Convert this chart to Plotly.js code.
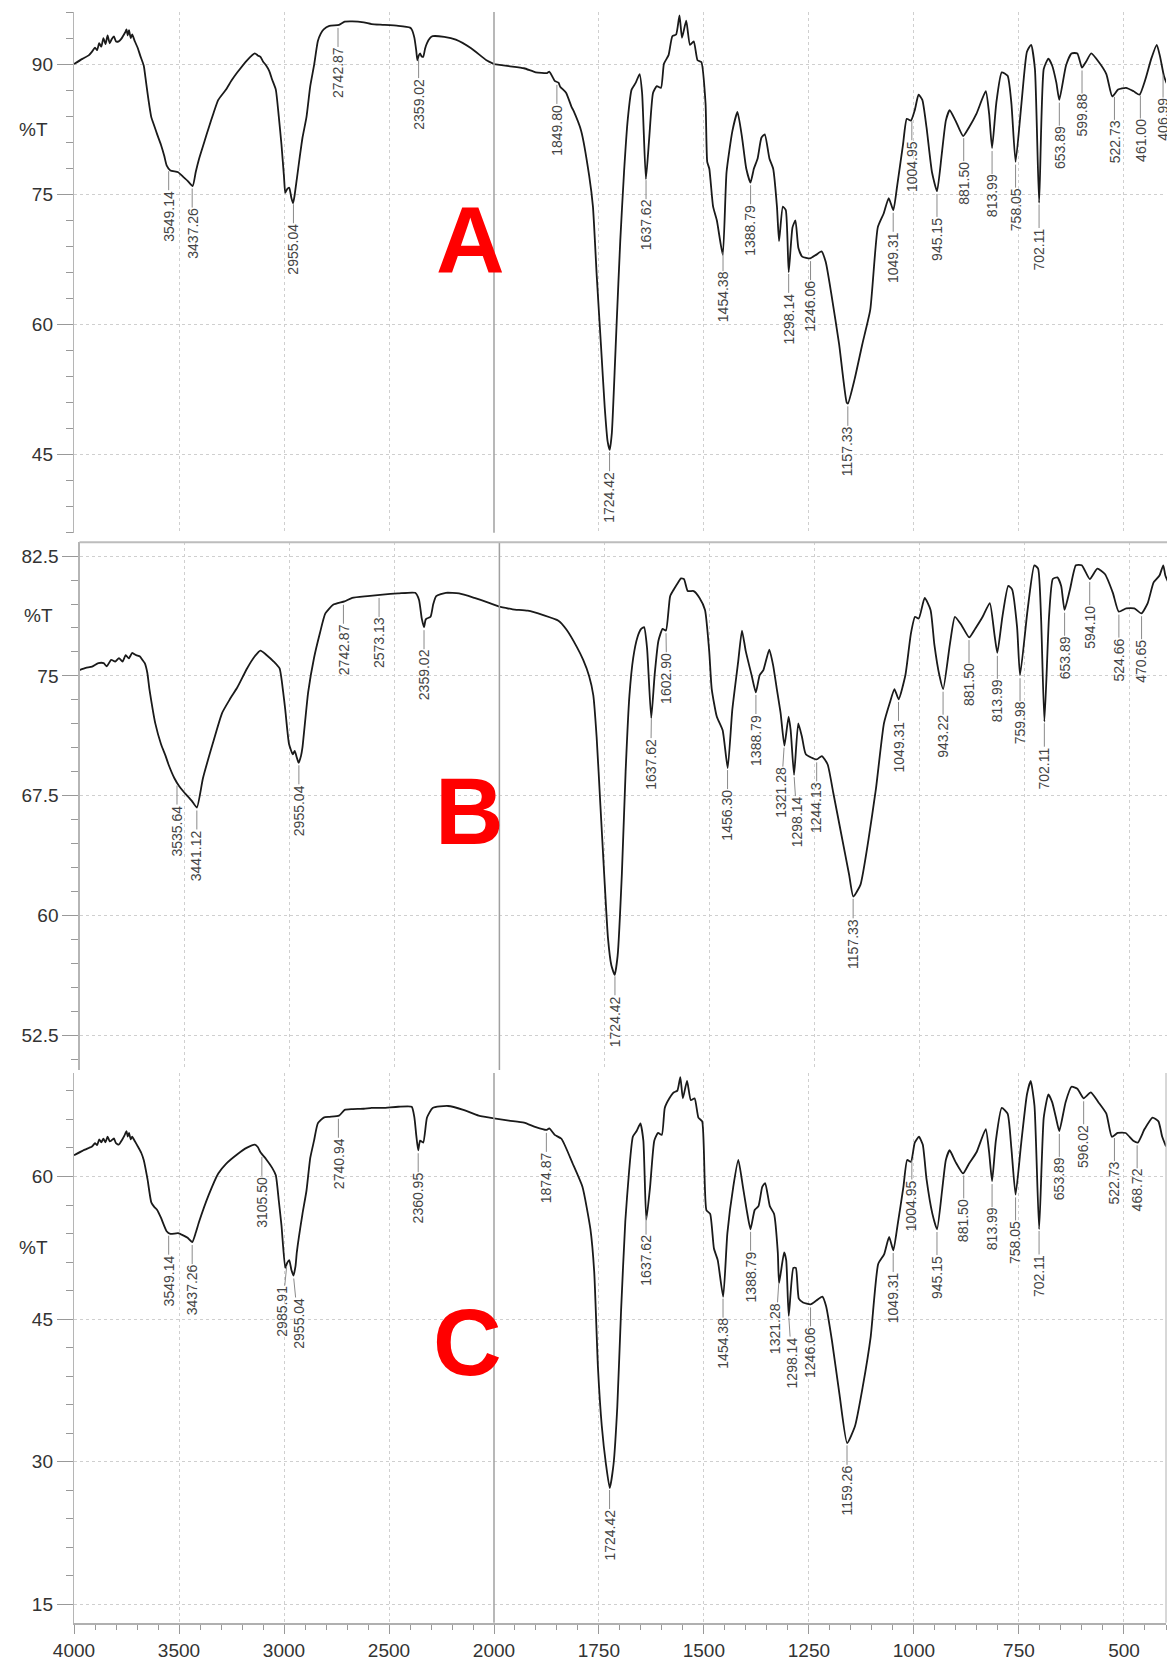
<!DOCTYPE html>
<html><head><meta charset="utf-8">
<script src="https://cdn.plot.ly/plotly-3.0.1.min.js"></script>
<style>html,body{margin:0;padding:0;background:#fff}#chart{width:1167px;height:1663px}</style>
</head><body><div id="chart"></div>
<script>
// ---------- DATA ----------
const A_wn = [4000,3960,3930,3914,3900,3890,3880,3870,3860,3850,3840,3830,3820,3810,3800,3787,3775,3765,3755,3750,3744,3738,3730,3723,3710,3696,3685,3668,3660,3650,3640,3632,3618,3604,3586,3570,3559,3541,3504,3480,3459,3435,3420,3404,3380,3358,3335,3313,3276,3250,3222,3176,3139,3125,3112,3100,3085,3070,3057,3039,3025,3012,3000,2994,2985,2975,2965,2957,2950,2939,2925,2912,2893,2875,2857,2839,2825,2811,2784,2738,2711,2675,2620,2583,2529,2456,2400,2392,2379,2370,2365,2358,2352,2345,2337,2328,2319,2305,2292,2237,2182,2109,2036,2000,1964,1928,1900,1873,1868,1860,1855,1846,1842,1828,1815,1810,1792,1773,1764,1755,1745,1736,1729,1724,1719,1712,1708,1699,1690,1681,1672,1662,1653,1647,1638,1630,1621,1612,1602,1595,1584,1575,1566,1558,1552,1542,1533,1524,1515,1506,1496,1492,1487,1478,1469,1455,1446,1432,1420,1409,1399,1389,1381,1372,1363,1355,1344,1335,1326,1321,1312,1305,1298,1289,1282,1275,1266,1247,1233,1220,1210,1197,1178,1160,1157,1141,1123,1104,1086,1072,1060,1049,1040,1026,1017,1007,998,989,980,970,957,945,934,924,915,901,883,869,851,829,821,814,804,791,777,768,758,744,731,721,712,702,691,680,671,661,654,638,625,611,600,590,578,560,542,528,514,495,477,463,449,435,422,414,405,399,395];
const A_T = [90.0,90.6,91.0,91.43,91.9,91.6,92.4,92.0,93.0,92.3,93.3,92.4,92.9,93.2,92.6,92.62,92.9,93.3,93.7,94.0,93.3,93.9,93.0,93.41,92.6,91.83,91.0,89.84,88.5,86.67,85.0,83.89,82.9,81.9,80.71,79.4,78.33,77.74,77.54,77.0,76.55,75.95,77.6,79.13,81.0,82.7,84.4,85.87,87.06,88.1,89.05,90.44,91.23,91.0,90.83,90.3,89.84,89.2,88.25,87.06,84.0,80.71,77.0,75.16,75.6,75.75,74.6,73.97,74.8,76.75,79.3,81.51,83.89,87.46,89.84,92.62,93.5,94.0,94.4,94.52,94.88,94.92,94.8,94.6,94.52,94.4,94.2,94.0,93.02,91.5,90.44,91.0,91.23,90.9,90.83,91.8,92.42,93.0,93.21,93.13,92.82,91.83,90.44,90.0,89.76,89.52,89.05,88.97,89.13,88.5,88.06,87.86,87.4,86.7,85.08,84.6,82.3,77.14,73.57,65.63,57.7,50.5,46.5,45.55,47.5,55.0,59.68,69.6,77.54,83.69,87.06,87.86,88.85,86.67,76.75,81.51,86.67,87.46,87.26,90.04,91.03,93.21,93.41,95.6,93.02,95.0,92.22,92.62,90.44,90.24,85.48,78.73,77.94,73.57,71.98,68.02,77.54,82.3,84.48,81.51,77.94,76.35,77.94,79.13,81.51,81.9,79.13,77.94,73.57,69.6,73.57,73.17,66.03,71.19,71.98,68.81,67.82,67.62,68.02,68.41,67.22,63.65,57.7,51.0,50.9,53.73,57.7,61.67,71.19,72.78,74.56,73.17,75.95,80.71,83.69,83.49,84.68,86.47,85.87,82.7,77.54,75.36,79.52,83.49,84.68,83.49,81.71,82.7,84.29,86.87,84.29,80.32,85.48,89.05,88.65,85.48,78.73,85.48,91.43,92.22,89.44,74.0,89.44,90.63,89.84,87.86,85.87,89.84,91.23,91.23,89.6,90.3,91.23,90.24,88.85,86.27,87.06,87.26,86.87,86.47,88.25,90.63,92.22,90.83,88.65,87.86,87.5];

const B_wn = [4000,3970,3940,3910,3885,3870,3849,3830,3812,3795,3780,3765,3749,3730,3712,3700,3689,3677,3667,3650,3639,3612,3590,3576,3548,3525,3503,3466,3441,3412,3366,3321,3284,3248,3202,3166,3138,3111,3075,3047,3030,3020,3002,2984,2975,2965,2956,2945,2938,2911,2883,2856,2829,2792,2738,2701,2628,2556,2483,2401,2383,2370,2359,2352,2346,2328,2315,2301,2255,2192,2119,2046,2000,1968,1932,1895,1859,1840,1815,1800,1786,1776,1768,1759,1750,1741,1733,1725,1718,1708,1699,1690,1681,1671,1662,1655,1648,1638,1630,1621,1611,1603,1593,1584,1574,1567,1560,1551,1537,1523,1510,1500,1494,1482,1468,1456,1445,1431,1422,1413,1399,1389,1380,1371,1357,1348,1339,1330,1321,1311,1306,1298,1288,1279,1270,1244,1232,1218,1205,1186,1167,1157,1140,1121,1103,1084,1070,1059,1049,1033,1020,1010,1001,987,973,964,952,943,927,915,899,881,867,849,832,821,814,802,788,779,767,760,742,726,717,710,702,691,682,671,662,654,641,627,613,594,576,558,539,525,507,488,471,456,442,428,419,414,407,400];
const B_T = [75.37,75.5,75.58,75.8,75.8,75.6,76.01,75.9,76.12,75.9,76.3,76.1,76.44,76.3,76.22,76.0,75.8,75.2,74.18,72.8,72.03,70.74,70.0,69.46,68.6,68.1,67.74,67.2,66.77,68.6,70.74,72.68,73.54,74.29,75.47,76.22,76.59,76.33,75.9,75.47,74.0,72.89,70.74,70.1,70.31,69.9,69.56,70.0,70.53,73.97,76.12,77.62,78.91,79.45,79.66,79.88,79.99,80.09,80.16,80.2,79.77,78.6,78.05,78.5,78.59,78.7,79.5,79.99,80.2,80.16,79.88,79.56,79.34,79.17,79.08,78.8,78.45,77.9,76.8,76.0,75.0,73.8,71.17,66.88,62.58,58.6,56.9,56.3,57.5,62.58,69.03,73.75,76.12,77.41,77.94,78.05,76.76,72.36,75.04,77.19,77.94,77.84,79.99,80.42,80.85,81.1,81.06,80.31,80.31,79.88,79.13,76.55,74.18,72.46,71.6,69.24,72.89,75.9,77.84,76.55,75.04,73.97,75.04,75.37,76.65,75.69,74.18,72.68,70.64,72.46,71.6,68.81,72.03,71.17,70.1,69.78,69.99,69.46,67.74,65.16,62.58,61.2,61.93,64.73,67.95,72.03,73.32,74.18,73.54,75.04,77.62,78.7,78.59,79.88,79.13,76.98,75.04,74.18,76.98,78.7,78.16,77.41,77.94,78.7,79.56,77.62,76.44,78.7,80.63,80.42,78.05,75.04,79.13,81.92,81.71,78.7,72.14,78.7,81.06,81.17,80.63,79.13,80.42,81.92,81.92,81.06,81.71,81.38,80.2,79.02,79.23,79.23,78.91,79.56,80.85,81.28,81.92,81.28,80.85,80.5];

const C_wn = [4000,3960,3930,3914,3900,3890,3880,3870,3860,3850,3840,3830,3823,3810,3800,3787,3770,3760,3750,3744,3738,3730,3723,3710,3696,3680,3668,3650,3632,3618,3604,3586,3559,3541,3504,3480,3459,3437,3420,3404,3358,3313,3276,3222,3176,3139,3125,3112,3085,3057,3039,3025,3012,2994,2985,2975,2965,2955,2945,2939,2912,2893,2875,2857,2839,2811,2784,2738,2711,2675,2620,2583,2529,2456,2392,2379,2370,2361,2352,2337,2319,2292,2219,2146,2073,2000,1964,1928,1900,1875,1868,1855,1839,1812,1789,1770,1761,1752,1743,1733,1724,1715,1706,1697,1687,1678,1669,1660,1651,1644,1637,1628,1618,1609,1600,1593,1582,1572,1563,1556,1550,1540,1531,1522,1513,1504,1494,1485,1476,1467,1454,1444,1430,1418,1407,1398,1389,1379,1370,1361,1354,1343,1333,1324,1321,1309,1304,1298,1287,1281,1274,1264,1246,1232,1218,1209,1195,1177,1159,1140,1122,1103,1085,1071,1059,1049,1039,1025,1016,1007,998,988,979,970,956,945,933,924,915,901,883,869,851,829,821,814,805,791,777,768,758,745,731,722,713,702,691,680,671,662,654,639,625,611,596,579,561,542,529,515,496,478,467,451,432,418,409,400];
const C_T = [62.23,62.7,63.0,63.16,63.5,63.3,63.9,63.6,63.97,63.6,64.2,63.7,63.77,64.0,63.5,63.36,63.9,64.3,64.78,64.2,64.6,63.9,64.18,63.7,63.16,62.5,61.74,59.72,57.28,56.8,56.47,55.66,54.24,53.96,54.04,53.8,53.55,53.1,54.1,55.26,58.09,60.32,61.34,62.35,63.04,63.36,63.1,62.55,61.82,60.93,60.12,57.5,54.85,50.39,50.9,51.2,50.2,49.58,50.6,52.01,56.07,58.5,61.95,63.77,65.59,66.2,66.28,66.4,67.01,67.09,67.13,67.22,67.22,67.34,67.34,66.2,64.3,62.76,63.77,63.57,66.2,67.22,67.42,67.01,66.4,66.12,65.88,65.67,65.19,64.9,65.06,64.38,63.97,61.34,58.91,54.45,49.99,39.85,33.77,29.72,27.21,29.72,35.8,45.93,55.26,60.53,64.18,64.78,65.59,63.77,55.46,58.91,63.77,64.58,64.38,67.22,68.23,68.84,69.04,70.46,68.23,70.05,68.03,68.23,66.2,65.8,56.47,56.07,52.42,51.2,47.35,54.04,58.91,61.74,58.91,56.47,54.45,56.47,56.88,58.91,59.31,56.88,56.07,52.01,48.77,52.01,51.2,45.33,50.39,50.39,47.15,46.75,46.54,46.95,47.35,46.34,42.69,37.02,31.95,33.77,37.83,43.1,50.8,51.81,53.64,52.22,54.85,58.91,61.74,61.54,63.57,64.18,63.36,59.72,56.07,54.45,58.5,61.74,62.76,61.54,60.32,61.34,62.55,64.99,62.55,59.51,63.77,67.22,66.61,62.96,58.09,63.36,68.63,70.05,67.42,54.45,66.2,68.63,67.82,66.2,64.78,67.82,69.44,69.24,68.23,68.84,67.82,66.61,64.18,64.58,64.58,63.77,63.57,64.99,66.2,65.8,64.18,63.16];

const A_peaks = ['3549.14','3437.26','2955.04','2742.87','2359.02','1849.80','1724.42','1637.62','1454.38','1388.79','1298.14','1246.06','1157.33','1049.31','1004.95','945.15','881.50','813.99','758.05','702.11','653.89','599.88','522.73','461.00','406.99'];
const B_peaks = ['3535.64','3441.12','2955.04','2742.87','2573.13','2359.02','1724.42','1637.62','1602.90','1456.30','1388.79','1321.28','1298.14','1244.13','1157.33','1049.31','943.22','881.50','813.99','759.98','702.11','653.89','594.10','524.66','470.65'];
const C_peaks = ['3549.14','3437.26','3105.50','2985.91','2955.04','2740.94','2360.95','1874.87','1724.42','1637.62','1454.38','1388.79','1321.28','1298.14','1246.06','1159.26','1049.31','1004.95','945.15','881.50','813.99','758.05','702.11','653.89','596.02','522.73','468.72'];

const panelLetters = ['A','B','C'];
const yTitle = '%T';

// ---------- LAYOUT (positions / styles) ----------
const W = 1167, H = 1663;
const FONT = 'Liberation Sans, Arial, sans-serif';
const panels = [
  {wn:A_wn, T:A_T, peaks:A_peaks, xL:[74,494], xR:[494,1166], yPx:[12,532.8], yr:[36,96], dtick:15, minor:3, letterPos:[470,240], pctPos:[33,130], bottom:false},
  {wn:B_wn, T:B_T, peaks:B_peaks, xL:[79.5,499.4], xR:[499.4,1167], yPx:[542.3,1070], yr:[50.35,83.36], dtick:7.5, minor:1.5, letterPos:[469,811], pctPos:[38,616], bottom:false, topFrame:true},
  {wn:C_wn, T:C_T, peaks:C_peaks, xL:[74,494], xR:[494,1166], yPx:[1073,1622.7], yr:[13.05,70.89], dtick:15, minor:3, letterPos:[467,1342], pctPos:[33,1247], bottom:true, rightFrame:true}
];

function interp(wn, T, x){
  for(let i=0;i<wn.length-1;i++){
    if(wn[i] >= x && wn[i+1] <= x){
      const t = (wn[i]-x)/(wn[i]-wn[i+1]);
      return T[i] + t*(T[i+1]-T[i]);
    }
  }
  return T[T.length-1];
}

const layout = {
  width:W, height:H, autosize:false,
  margin:{l:0,r:0,t:0,b:0,pad:0},
  paper_bgcolor:'#ffffff', plot_bgcolor:'rgba(0,0,0,0)',
  showlegend:false,
  font:{family:FONT, color:'#333'},
  annotations:[], shapes:[]
};
const traces = [];
const gridX = {showgrid:true, gridcolor:'#cfcfcf', griddash:'dot', gridwidth:1, zeroline:false, fixedrange:true};

panels.forEach((p,k)=>{
  const xi = 2*k+1;
  const xLn = xi===1 ? 'x' : 'x'+xi, xRn = 'x'+(xi+1), yN = k===0 ? 'y' : 'y'+(k+1);
  const axL = 'xaxis'+(xi===1?'':xi), axR = 'xaxis'+(xi+1), axY = 'yaxis'+(k===0?'':(k+1));
  const leftW = p.xL[1]-p.xL[0], rightW = p.xR[1]-p.xR[0];
  const rStart = 1999.5;
  const rEnd = 2000 - rightW/(2*leftW/2000);
  const ydom = [1 - p.yPx[1]/H, 1 - p.yPx[0]/H];
  const bottomStyle = p.bottom ? {
    showticklabels:true, ticks:'outside', ticklen:9, tickwidth:1, tickcolor:'#999',
    tickfont:{size:19, color:'#333', family:FONT},
    showline:true, linecolor:'#b0b0b0', linewidth:2
  } : {showticklabels:false, ticks:'', showline:false};
  layout[axL] = Object.assign({}, gridX, bottomStyle, {
    domain:[p.xL[0]/W, p.xL[1]/W], range:[4000,2000], anchor:yN,
    tickmode:'linear', tick0:0, dtick:500
  });
  layout[axR] = Object.assign({}, gridX, bottomStyle, {
    domain:[p.xR[0]/W, Math.min(1,p.xR[1]/W)], range:[rStart, rEnd], anchor:yN,
    tickmode:'linear', tick0:0, dtick:250
  });
  if(p.bottom){
    layout[axL].minor = {tick0:0, dtick:100, ticks:'outside', ticklen:5, tickcolor:'#999', showgrid:false};
    layout[axR].minor = {tick0:0, dtick:50, ticks:'outside', ticklen:5, tickcolor:'#999', showgrid:false};
  }
  layout[axY] = {
    domain:ydom, range:p.yr, anchor:xLn, fixedrange:true,
    tickmode:'linear', tick0:0, dtick:p.dtick,
    ticks:'outside', ticklen:16, tickwidth:1, tickcolor:'#999',
    showline:true, linecolor:'#b5b5b5', linewidth:1.2,
    tickfont:{size:19, color:'#333', family:FONT},
    showgrid:true, gridcolor:'#cfcfcf', griddash:'dot', gridwidth:1, zeroline:false,
    minor:{tick0:0, dtick:p.minor, ticks:'outside', ticklen:7, tickcolor:'#999', showgrid:false}
  };

  // spectrum split at the 2000 cm-1 scale change
  const L = {x:[],y:[]}, R = {x:[],y:[]};
  p.wn.forEach((w,i)=>{
    if(w >= 2000){L.x.push(w); L.y.push(p.T[i]);}
    if(w <= 2000){R.x.push(w); R.y.push(p.T[i]);}
  });
  const lineStyle = {color:'#1a1a1a', width:1.8, shape:'spline', smoothing:0.5};
  traces.push({type:'scatter', mode:'lines', x:L.x, y:L.y, xaxis:xLn, yaxis:yN, line:lineStyle, hoverinfo:'skip'});
  traces.push({type:'scatter', mode:'lines', x:R.x, y:R.y, xaxis:xRn, yaxis:yN, line:lineStyle, hoverinfo:'skip'});

  // 2000 separator
  layout.shapes.push({type:'line', xref:xLn+' domain', yref:yN+' domain', x0:1, x1:1, y0:0, y1:1, line:{color:'#a0a0a0', width:1.5}});
  if(p.topFrame){
    layout.shapes.push({type:'line', xref:'paper', yref:yN+' domain', x0:p.xL[0]/W, x1:1, y0:1, y1:1, line:{color:'#bdbdbd', width:2}});
  }
  if(p.rightFrame){
    layout.shapes.push({type:'line', xref:xRn+' domain', yref:yN+' domain', x0:1, x1:1, y0:0, y1:1, line:{color:'#b0b0b0', width:1}});
  }

  // peak labels
  const pk = p.peaks.map(s=>{
    const w = parseFloat(s);
    const yv = interp(p.wn, p.T, w);
    const px = w >= 2000 ? p.xL[0] + (4000-w)/2000*leftW : p.xR[0] + (rStart-w)/(rStart-rEnd)*rightW;
    return {s, w, yv, px, adj:px};
  });
  pk.sort((a,b)=>a.px-b.px);
  const GAP = 16;
  for(let it=0; it<200; it++){
    for(let i=0;i<pk.length-1;i++){
      const g = pk[i+1].adj - pk[i].adj;
      if(g < GAP){ const d = (GAP-g)/2; pk[i].adj -= d; pk[i+1].adj += d; }
    }
  }
  pk.forEach(q=>{
    layout.annotations.push({
      xref: q.w >= 2000 ? xLn : xRn, yref:yN, x:q.w, y:q.yv,
      text:q.s, textangle:-90, showarrow:true, arrowhead:0, arrowwidth:1, arrowcolor:'#8a8a8a',
      ax:q.adj-q.px, ay:48, standoff:3, borderpad:0,
      font:{size:14, color:'#444', family:FONT}
    });
  });

  // %T and panel letter
  layout.annotations.push({xref:'paper', yref:'paper', x:p.pctPos[0]/W, y:1-p.pctPos[1]/H, text:yTitle, showarrow:false, xanchor:'center', yanchor:'middle', font:{size:19, color:'#333', family:FONT}});
  layout.annotations.push({xref:'paper', yref:'paper', x:p.letterPos[0]/W, y:1-p.letterPos[1]/H, text:'<b>'+panelLetters[k]+'</b>', showarrow:false, xanchor:'center', yanchor:'middle', font:{size:95, color:'#ff0000', family:FONT}});
});

Plotly.newPlot('chart', traces, layout, {staticPlot:true, displayModeBar:false});
</script>
</body></html>
